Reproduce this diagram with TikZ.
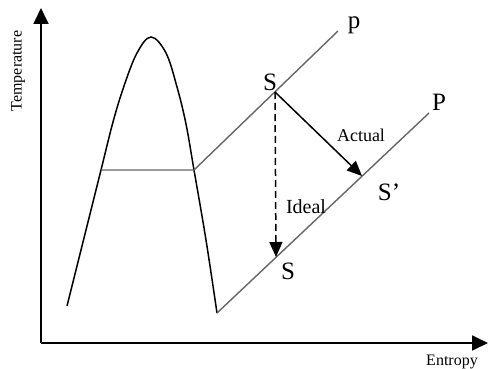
\documentclass[tikz,border=0pt]{standalone}
\usepackage{fontspec}
\setmainfont{Liberation Serif}
\usetikzlibrary{arrows.meta}
\definecolor{LineGray}{HTML}{666666}

\begin{document}
\begin{tikzpicture}[x=1pt,y=-1pt,
  axis/.style={line width=1.8pt,-{Triangle[length=16pt,width=15pt]}},
  isobar/.style={LineGray,line width=1.4pt},
  expand/.style={line width=1.5pt,-{Triangle[length=15pt,width=13pt]}},
  big/.style={font=\fontsize{25}{25}\selectfont,inner sep=0pt},
  small/.style={font=\fontsize{16}{16}\selectfont,inner sep=0pt}]
  \useasboundingbox (0,0) rectangle (488,369);
  % axes
  \coordinate (origin) at (41,343);
  \coordinate (tTop) at (41,8);
  \coordinate (sEnd) at (488,343);
  \draw[axis] (origin) -- (tTop);
  \draw[axis] (origin) -- (sEnd);
  \node[small,rotate=90] (tLbl) at (18,71) {Temperature};
  \node[small] (sLbl) at (452,362) {Entropy};
  % saturation dome
  \draw[line width=1.5pt] plot[smooth,tension=0.6] coordinates {
    (67,306) (84,238) (101,170) (113,122) (124,86) (137,53) (151,37)
    (166,53) (177,87) (186,124) (194,170) (206,240) (217,313)};
  % isobars
  \coordinate (pA) at (194,170);
  \coordinate (pB) at (338,31);
  \coordinate (PA) at (217,313);
  \coordinate (PB) at (429,113);
  \coordinate (wetL) at (101,170);
  \draw[isobar] (wetL) -- (pA) -- (pB);
  \draw[isobar] (PA) -- (PB);
  \node[big] (pLbl) at (354,25) {p};
  \node[big] (PLbl) at (439,102) {P};
  % expansion
  \coordinate (sTop) at (275,92);
  \coordinate (sIdeal) at (276,257);
  \coordinate (sActual) at (362,176);
  \draw[expand,dash pattern=on 7pt off 4pt] (sTop) -- (sIdeal);
  \draw[expand] (sTop) -- (sActual);
  \node[big] (sTopLbl) at (270,82) {S};
  \node[big] (sIdealLbl) at (288,271) {S};
  \node[big] (sActualLbl) at (389,192) {S’};
  \node[font=\fontsize{18}{18}\selectfont,inner sep=0pt] (actualLbl) at (361,135) {Actual};
  \node[font=\fontsize{20}{20}\selectfont,inner sep=0pt] (idealLbl) at (306,207) {Ideal};
\end{tikzpicture}
\end{document}
